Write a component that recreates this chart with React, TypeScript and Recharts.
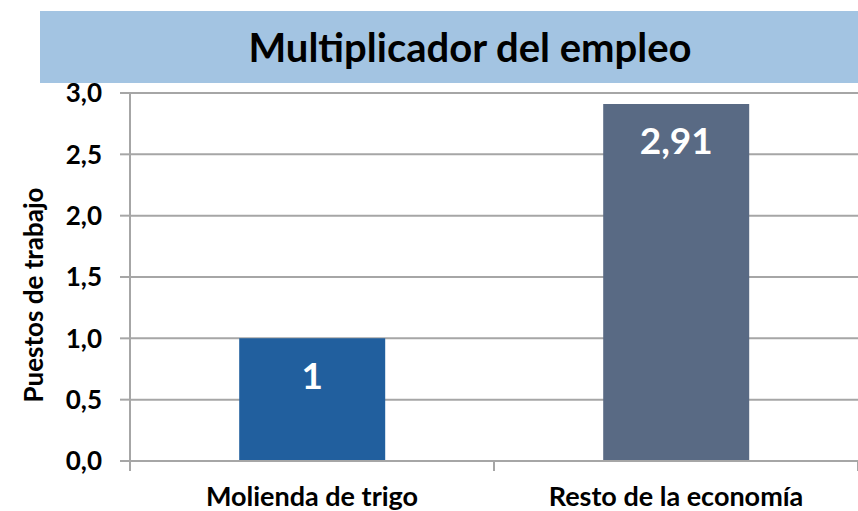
import React from 'react';
import { BarChart, Bar, XAxis, YAxis, CartesianGrid, Cell, LabelList, Label } from 'recharts';

const categories = ['Molienda de trigo', 'Resto de la economía'];
const values = [1, 2.91];
const barColors = ['#215F9E', '#596A84'];
const yTicks = [0, 0.5, 1, 1.5, 2, 2.5, 3];

const data = categories.map((name, i) => ({ name, value: values[i] }));

const FONT = 'Lato, "Open Sans", sans-serif';
const GRID = '#A6A6A6';

const fmtTick = (v: number) => v.toFixed(1).replace('.', ',');
const fmtLabel = (v: any) => String(v).replace('.', ',');

// category ticks sit on the boundaries between bars, like the original
const CategoryTick = (props: any) => {
    const { x, y, payload, index, visibleTicksCount } = props;
    const half = payload.offset || 0;
    const last = index === visibleTicksCount - 1;
    return (
        <g>
            <line x1={x - half} x2={x - half} y1={y - 8} y2={y + 2} stroke={GRID} strokeWidth={2} />
            {last && <line x1={x + half} x2={x + half} y1={y - 8} y2={y + 2} stroke={GRID} strokeWidth={2} />}
            <text x={x} y={y + 37} textAnchor="middle" fontFamily={FONT} fontWeight={700} fontSize={27} fill="#000">
                {payload.value}
            </text>
        </g>
    );
};

const YTitle = (props: any) => {
    const { viewBox } = props;
    const cx = 33;
    const cy = viewBox.y + viewBox.height / 2 + 18;
    return (
        <text x={cx} y={cy} transform={`rotate(-90, ${cx}, ${cy})`} textAnchor="middle" dominantBaseline="central"
            fontFamily={FONT} fontWeight={700} fontSize={26} fill="#000">
            Puestos de trabajo
        </text>
    );
};

const App = () => {
    return (
        <div style={{ position: 'absolute', left: 0, top: 0, width: 858, height: 511, overflow: 'hidden', background: '#fff' }}>
            <div style={{
                position: 'absolute', left: 40, top: 11, width: 860, height: 72, background: '#A3C4E2',
                display: 'flex', alignItems: 'center', justifyContent: 'center',
                fontFamily: FONT, fontWeight: 700, fontSize: 40, color: '#000',
            }}>
                Multiplicador del empleo
            </div>
            <BarChart width={858} height={511} data={data} margin={{ top: 93, right: 0, left: 0, bottom: 0 }} barCategoryGap="30%">
                <CartesianGrid vertical={false} stroke={GRID} strokeWidth={2} />
                <XAxis dataKey="name" axisLine={{ stroke: GRID, strokeWidth: 2 }} tickLine={false} tick={<CategoryTick />} height={50} interval={0} />
                <YAxis domain={[0, 3]} ticks={yTicks} tickFormatter={fmtTick} width={130} tickSize={10} tickMargin={18}
                    axisLine={{ stroke: GRID, strokeWidth: 2 }} tickLine={{ stroke: GRID, strokeWidth: 2 }}
                    tick={{ fontFamily: FONT, fontWeight: 700, fontSize: 26, fill: '#000' }}>
                    <Label content={<YTitle />} />
                </YAxis>
                <Bar dataKey="value" isAnimationActive={false}>
                    {data.map((d, i) => <Cell key={d.name} fill={barColors[i]} />)}
                    <LabelList dataKey="value" position="insideTop" offset={24} formatter={fmtLabel}
                        style={{ fontFamily: FONT, fontWeight: 700, fontSize: 37, fill: '#fff' }} />
                </Bar>
            </BarChart>
        </div>
    );
};

export default App;
